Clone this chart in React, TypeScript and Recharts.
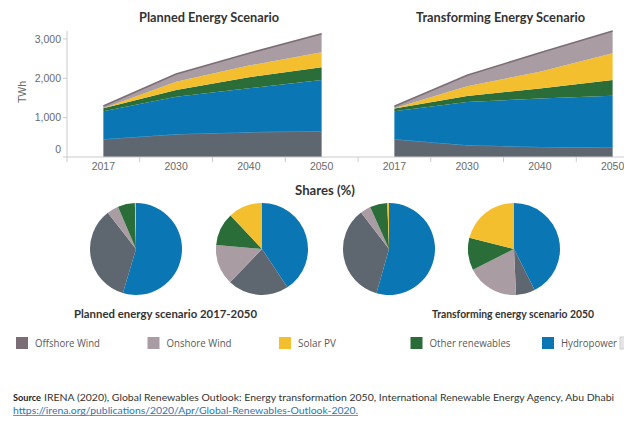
import { AreaChart, Area, XAxis, YAxis, PieChart, Pie, Cell } from "recharts";

// years on the category axis
const years = ["2017", "2030", "2040", "2050"];
const yTicks = [0, 1000, 2000, 3000];

// TWh per layer, bottom to top
const plannedBase = [450, 579, 630, 656];
const plannedHydro = [715, 951, 1114, 1301];
const plannedOther = [70, 171, 281, 323];
const plannedSolar = [6, 212, 296, 383];
const plannedOnshore = [52, 196, 316, 467];

const transformingBase = [450, 300, 255, 240];
const transformingHydro = [715, 1100, 1234, 1316];
const transformingOther = [70, 155, 255, 401];
const transformingSolar = [6, 248, 424, 681];
const transformingOnshore = [52, 280, 484, 569];

// pie shares (%), clockwise from 12 o'clock
const pieKeys = ["Hydropower", "Base", "Onshore Wind", "Other renewables", "Solar PV"];
const plannedShares2017 = [54.6, 34.9, 4.1, 6.0, 0.4];
const plannedShares2050 = [40.7, 21.5, 14.2, 11.6, 12.0];
const transformingShares2017 = [54.4, 35.2, 3.7, 6.1, 0.6];
const transformingShares2050 = [42.6, 6.7, 18.3, 11.3, 21.1];

const legendLabels = ["Offshore Wind", "Onshore Wind", "Solar PV", "Other renewables", "Hydropower"];
const legendWidths = [65, 65, 38, 81, 56];

const C = {
  base: "#5e6670",
  hydro: "#0a76b4",
  other: "#2a6d39",
  solar: "#f3bf2f",
  onshore: "#aa9ca3",
  offshore: "#7b6d75",
  axis: "#cbcbcb",
  tickText: "#6a6a6a",
};
const pieColors = [C.hydro, C.base, C.onshore, C.other, C.solar];
const legendColors = [C.offshore, C.onshore, C.solar, C.other, C.hydro];

const AXIS_X = 67;
const PLOT_W = 291;
const STEP = PLOT_W / years.length;
const CHART_H = 187;

const toRows = (base: number[], hydro: number[], other: number[], solar: number[], onshore: number[]) =>
  years.map((year, i) => ({
    year,
    base: base[i],
    hydro: hydro[i],
    other: other[i],
    solar: solar[i],
    onshore: onshore[i],
  }));

const plannedData = toRows(plannedBase, plannedHydro, plannedOther, plannedSolar, plannedOnshore);
const transformingData = toRows(
  transformingBase,
  transformingHydro,
  transformingOther,
  transformingSolar,
  transformingOnshore
);

const renderXTick = (props: any) => {
  const { x, y, payload } = props;
  const axisY = y - 8;
  const last = payload.value === years[years.length - 1];
  return (
    <g>
      <line x1={x - STEP / 2} x2={x - STEP / 2} y1={axisY} y2={axisY + 5} stroke={C.axis} />
      {last && <line x1={x + STEP / 2} x2={x + STEP / 2} y1={axisY} y2={axisY + 5} stroke={C.axis} />}
      <text
        x={x}
        y={axisY + 13}
        textAnchor="middle"
        fill={C.tickText}
        fontSize={10.5}
        fontFamily="'Liberation Sans', Arial, sans-serif"
      >
        {payload.value}
      </text>
    </g>
  );
};

const renderYTick = (props: any) => {
  const { x, y, payload } = props;
  return (
    <text
      x={x}
      y={payload.value === 0 ? y - 8 : y}
      dy="0.35em"
      textAnchor="end"
      fill={C.tickText}
      fontSize={10.5}
      fontFamily="'Liberation Sans', Arial, sans-serif"
    >
      {payload.value.toLocaleString("en-US")}
    </text>
  );
};

function ScenarioChart({ data, left, showY }: { data: any[]; left: number; showY: boolean }) {
  const width = (showY ? AXIS_X : 0) + PLOT_W;
  return (
    <div style={{ position: "absolute", left, top: 0 }}>
      <AreaChart width={width} height={CHART_H} data={data} margin={{ top: 31, right: 0, bottom: 0, left: 0 }}>
        <XAxis
          dataKey="year"
          scale="point"
          interval={0}
          padding={{ left: STEP / 2, right: STEP / 2 }}
          axisLine={{ stroke: C.axis }}
          tickLine={false}
          tickSize={5}
          tickMargin={3}
          height={30}
          tick={renderXTick}
        />
        <YAxis
          hide={!showY}
          width={AXIS_X}
          domain={[0, 3200]}
          ticks={yTicks}
          interval={0}
          axisLine={{ stroke: C.axis }}
          tickLine={{ stroke: C.axis }}
          tickSize={4}
          tickMargin={2}
          tick={renderYTick}
        />
        <Area type="linear" dataKey="base" stackId="s" stroke="#4d9acb" strokeWidth={0.8} fill={C.base} fillOpacity={1} isAnimationActive={false} />
        <Area type="linear" dataKey="hydro" stackId="s" stroke="none" fill={C.hydro} fillOpacity={1} isAnimationActive={false} />
        <Area type="linear" dataKey="other" stackId="s" stroke="none" fill={C.other} fillOpacity={1} isAnimationActive={false} />
        <Area type="linear" dataKey="solar" stackId="s" stroke="none" fill={C.solar} fillOpacity={1} isAnimationActive={false} />
        <Area type="linear" dataKey="onshore" stackId="s" stroke={C.offshore} strokeWidth={1.6} fill={C.onshore} fillOpacity={1} isAnimationActive={false} />
      </AreaChart>
    </div>
  );
}

function SharePie({ cx, cy, values }: { cx: number; cy: number; values: number[] }) {
  const data = pieKeys.map((name, i) => ({ name, value: values[i] }));
  return (
    <div style={{ position: "absolute", left: cx - 50, top: cy - 50 }}>
      <PieChart width={100} height={100} margin={{ top: 0, right: 0, bottom: 0, left: 0 }}>
        <Pie
          data={data}
          dataKey="value"
          cx={50}
          cy={50}
          innerRadius={0}
          outerRadius={46}
          startAngle={90}
          endAngle={-270}
          stroke="none"
          isAnimationActive={false}
        >
          {data.map((d, i) => (
            <Cell key={d.name} fill={pieColors[i]} />
          ))}
        </Pie>
      </PieChart>
    </div>
  );
}

const calibri = "Lato, 'Open Sans', sans-serif";

export default function App() {
  return (
    <div
      style={{
        position: "fixed",
        left: 0,
        top: 0,
        width: 624,
        height: 424,
        overflow: "hidden",
        background: "#fff",
      }}
    >
      <ScenarioChart data={plannedData} left={0} showY />
      <ScenarioChart data={transformingData} left={AXIS_X + PLOT_W} showY={false} />

      <SharePie cx={136} cy={249} values={plannedShares2017} />
      <SharePie cx={262} cy={249} values={plannedShares2050} />
      <SharePie cx={388.5} cy={249} values={transformingShares2017} />
      <SharePie cx={514} cy={249} values={transformingShares2050} />

      <svg width={624} height={424} style={{ position: "absolute", left: 0, top: 0, pointerEvents: "none" }}>
        <g fontFamily={calibri} fill="#333" fontWeight="bold">
          <text x={139} y={21.5} fontSize={12.5} textLength={140} lengthAdjust="spacingAndGlyphs">
            Planned Energy Scenario
          </text>
          <text x={416} y={21.5} fontSize={12.5} textLength={169} lengthAdjust="spacingAndGlyphs">
            Transforming Energy Scenario
          </text>
          <text x={295} y={195} fontSize={12.5} textLength={60} lengthAdjust="spacingAndGlyphs">
            Shares (%)
          </text>
          <text x={74} y={318} fontSize={11.5} textLength={183} lengthAdjust="spacingAndGlyphs">
            Planned energy scenario 2017-2050
          </text>
          <text x={432} y={318} fontSize={11.5} textLength={162} lengthAdjust="spacingAndGlyphs">
            Transforming energy scenario 2050
          </text>
        </g>

        <text
          transform="translate(26,92) rotate(-90)"
          textAnchor="middle"
          fontSize={10.5}
          fill={C.tickText}
          fontFamily="'Liberation Sans', Arial, sans-serif"
        >
          TWh
        </text>

        {legendLabels.map((label, i) => {
          const x = 16 + i * 131.5;
          return (
            <g key={label}>
              <rect x={x} y={337} width={12} height={12} fill={legendColors[i]} />
              <text
                x={x + 19}
                y={346.5}
                fontSize={10}
                fill="#595959"
                fontFamily="'Open Sans', sans-serif"
                textLength={legendWidths[i]}
                lengthAdjust="spacingAndGlyphs"
              >
                {label}
              </text>
            </g>
          );
        })}
        <rect x={620} y={337} width={12} height={12} fill="#e6e6e6" stroke="#d0d0d0" />

        <g fontFamily={calibri} fontSize={10}>
          <text x={13} y={401} fill="#262626" fontWeight="bold" textLength={28} lengthAdjust="spacingAndGlyphs">
            Source
          </text>
          <text x={44} y={401} fill="#333" textLength={570} lengthAdjust="spacingAndGlyphs">
            IRENA (2020), Global Renewables Outlook: Energy transformation 2050, International Renewable Energy Agency, Abu Dhabi
          </text>
          <text x={13} y={414} fill="#2e74b5" textLength={345} lengthAdjust="spacingAndGlyphs">
            https://irena.org/publications/2020/Apr/Global-Renewables-Outlook-2020.
          </text>
          <line x1={13} x2={358} y1={415.5} y2={415.5} stroke="#7a5fb3" strokeWidth={0.8} />
        </g>
      </svg>
    </div>
  );
}
